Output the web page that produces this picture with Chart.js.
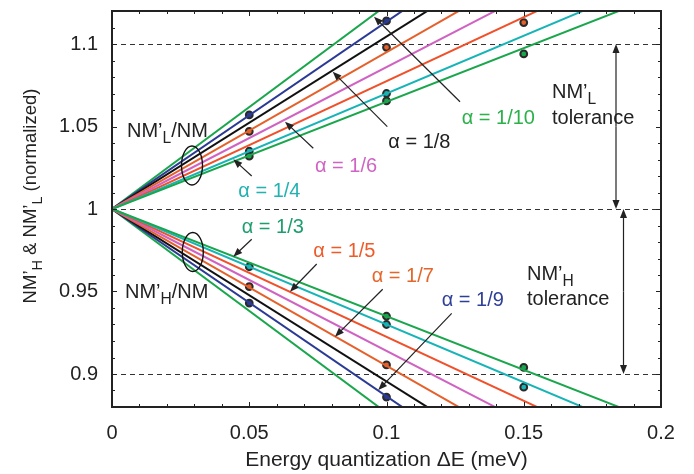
<!DOCTYPE html>
<html>
<head>
<meta charset="utf-8">
<script src="https://cdn.jsdelivr.net/npm/chart.js@4/dist/chart.umd.min.js"></script>
<style>
  html, body { margin: 0; padding: 0; background: #fff; }
  #wrap { width: 694px; height: 474px; }
</style>
</head>
<body>
<div id="wrap"><canvas id="c"></canvas></div>
<script>
// data
const alphaLabels = ['1/3', '1/4', '1/5', '1/6', '1/7', '1/8', '1/9', '1/10'];
const startX = 0, endX = 0.2, origin = 1;
// NM'L/NM and NM'H/NM reached at dE = 0.2 meV (lines start at 1)
const upperEnd = [1.130, 1.140, 1.155, 1.172, 1.190, 1.209, 1.227, 1.247];
const lowerEnd = [0.870, 0.860, 0.845, 0.828, 0.810, 0.791, 0.773, 0.753];
// simulated points (circles)
const simX = [0.05, 0.1, 0.15];
const simUpper = [[1.057, 1.047, 1.035, 1.032], [1.114, 1.098, 1.070, 1.0655], [1.113, 1.094]];
const simLower = [[0.965, 0.953, 0.943], [0.935, 0.930, 0.9055, 0.886], [0.904, 0.892]];
const refLines = [1.1, 1.0, 0.9];
const xTicks = [0, 0.05, 0.1, 0.15, 0.2];
const xTickLabels = ['0', '0.05', '0.1', '0.15', '0.2'];
const yTicks = [0.9, 0.95, 1, 1.05, 1.1];
const yTickLabels = ['0.9', '0.95', '1', '1.05', '1.1'];

const FONT = '"Liberation Sans", Arial, Helvetica, sans-serif';
const lineColors = ['#1aa64c', '#16b4b6', '#f0502a', '#d063c2', '#e5602a', '#111111', '#2a3a95', '#1aa64c'];
const labelColors = ['#1d9e6e', '#22b2b2', '#f05a28', '#d064c4', '#e5662a', '#222222', '#2e3f98', '#2bb04a'];
const simUpperFill = [['#2a3a95', '#e5602a', '#16b4b6', '#1aa64c'], ['#2a3a95', '#e5602a', '#16b4b6', '#1aa64c'], ['#e5602a', '#1aa64c']];
const simLowerFill = [['#16b4b6', '#e5602a', '#2a3a95'], ['#1aa64c', '#16b4b6', '#e5602a', '#2a3a95'], ['#1aa64c', '#16b4b6']];

// annotation layout (pixels)
const alphaNotes = [
  { x: 241.7, y: 233.3, tail: [251.7, 239.3], head: [233.3, 256.7] },
  { x: 238.3, y: 196.7, tail: [251.7, 176.0], head: [233.3, 159.3] },
  { x: 313.3, y: 256.7, tail: [316.7, 264.0], head: [290.0, 291.7] },
  { x: 315.0, y: 171.7, tail: [313.3, 148.3], head: [285.0, 121.7] },
  { x: 371.7, y: 281.7, tail: [382.7, 289.3], head: [335.0, 336.7] },
  { x: 388.3, y: 148.3, tail: [387.3, 126.7], head: [332.7, 71.7] },
  { x: 441.7, y: 306.0, tail: [451.7, 313.3], head: [378.3, 390.0] },
  { x: 461.7, y: 124.0, tail: [460.0, 101.7], head: [374.0, 16.7] }
];
const textNotes = [
  { text: 'NM’_{L}/NM', x: 127, y: 137 },
  { text: 'NM’_{H}/NM', x: 125, y: 298 },
  { text: 'NM’_{L}', x: 552, y: 98 },
  { text: 'tolerance', x: 552, y: 124 },
  { text: 'NM’_{H}', x: 527, y: 280 },
  { text: 'tolerance', x: 527, y: 305 }
];
const ellipses = [[192, 165.5, 10.5, 19.5], [192.8, 252, 10.5, 19.5]];

const datasets = [];
alphaLabels.forEach((a, i) => {
  [upperEnd, lowerEnd].forEach(ends => {
    datasets.push({
      type: 'line',
      data: [{ x: startX, y: origin }, { x: endX, y: ends[i] }],
      borderColor: lineColors[i],
      borderWidth: 2,
      pointRadius: 0
    });
  });
});
[simUpper, simLower].forEach((group, g) => {
  const fills = g === 0 ? simUpperFill : simLowerFill;
  group.forEach((ys, k) => {
    datasets.push({
      type: 'scatter',
      data: ys.map(v => ({ x: simX[k], y: v })),
      pointRadius: 3.4,
      pointBorderWidth: 2,
      pointBorderColor: '#2a2a2a',
      pointBackgroundColor: fills[k],
      showLine: false
    });
  });
});

function parseRich(str) {
  const parts = [];
  const re = /_\{([^}]*)\}/g;
  let last = 0, m;
  while ((m = re.exec(str))) {
    if (m.index > last) parts.push({ t: str.slice(last, m.index), sub: false });
    parts.push({ t: m[1], sub: true });
    last = re.lastIndex;
  }
  if (last < str.length) parts.push({ t: str.slice(last), sub: false });
  return parts;
}
function richWidth(ctx, parts, size) {
  let w = 0;
  parts.forEach(p => {
    ctx.font = (p.sub ? size * 0.78 : size) + 'px ' + FONT;
    w += ctx.measureText(p.t).width;
  });
  return w;
}
function drawRich(ctx, str, x, y, color, size) {
  const parts = parseRich(str);
  let cx = x;
  ctx.fillStyle = color;
  ctx.textBaseline = 'alphabetic';
  ctx.textAlign = 'left';
  parts.forEach(p => {
    const s = p.sub ? size * 0.78 : size;
    ctx.font = s + 'px ' + FONT;
    ctx.fillText(p.t, cx, y + (p.sub ? size * 0.3 : 0));
    cx += ctx.measureText(p.t).width;
  });
}
function arrow(ctx, x1, y1, x2, y2) {
  const ang = Math.atan2(y2 - y1, x2 - x1);
  const hl = 9, hw = 3.5;
  ctx.beginPath();
  ctx.moveTo(x1, y1);
  ctx.lineTo(x2 - Math.cos(ang) * hl * 0.8, y2 - Math.sin(ang) * hl * 0.8);
  ctx.stroke();
  ctx.beginPath();
  ctx.moveTo(x2, y2);
  ctx.lineTo(x2 - Math.cos(ang) * hl - Math.sin(ang) * hw, y2 - Math.sin(ang) * hl + Math.cos(ang) * hw);
  ctx.lineTo(x2 - Math.cos(ang) * hl + Math.sin(ang) * hw, y2 - Math.sin(ang) * hl - Math.cos(ang) * hw);
  ctx.closePath();
  ctx.fill();
}

const decor = {
  id: 'decor',
  beforeDatasetsDraw(chart) {
    const ctx = chart.ctx, { left, right } = chart.chartArea, ys = chart.scales.y;
    ctx.save();
    ctx.strokeStyle = '#333';
    ctx.lineWidth = 1;
    ctx.setLineDash([5, 4]);
    refLines.forEach(v => {
      const py = Math.round(ys.getPixelForValue(v)) + 0.5;
      ctx.beginPath();
      ctx.moveTo(left, py);
      ctx.lineTo(right, py);
      ctx.stroke();
    });
    ctx.restore();
  },
  afterDatasetsDraw(chart) {
    const ctx = chart.ctx, { left, right, top, bottom } = chart.chartArea;
    const xs = chart.scales.x, ys = chart.scales.y;
    ctx.save();
    // inward ticks on all four sides
    ctx.strokeStyle = '#222';
    ctx.lineWidth = 1;
    for (let k = 0; k <= 20; k++) {
      const px = Math.round(xs.getPixelForValue(k * 0.01)) + 0.5;
      const len = k % 5 === 0 ? 5 : 3;
      ctx.beginPath();
      ctx.moveTo(px, bottom); ctx.lineTo(px, bottom - len);
      ctx.moveTo(px, top); ctx.lineTo(px, top + len);
      ctx.stroke();
    }
    for (let k = 88; k <= 112; k++) {
      const py = Math.round(ys.getPixelForValue(k * 0.01)) + 0.5;
      const len = k % 5 === 0 ? 5 : 3;
      ctx.beginPath();
      ctx.moveTo(left, py); ctx.lineTo(left + len, py);
      ctx.moveTo(right, py); ctx.lineTo(right - len, py);
      ctx.stroke();
    }
    ctx.lineWidth = 2;
    ctx.strokeRect(left, top, right - left, bottom - top);

    // ellipses
    ctx.lineWidth = 1.4;
    ctx.strokeStyle = '#111';
    ellipses.forEach(([cx, cy, rx, ry]) => {
      ctx.beginPath();
      ctx.ellipse(cx, cy, rx, ry, 0, 0, Math.PI * 2);
      ctx.stroke();
    });

    // arrows
    ctx.strokeStyle = '#222';
    ctx.fillStyle = '#222';
    ctx.lineWidth = 1.2;
    alphaNotes.forEach(n => arrow(ctx, n.tail[0], n.tail[1], n.head[0], n.head[1]));
    const yTop = ys.getPixelForValue(refLines[0]);
    const yMid = ys.getPixelForValue(refLines[1]);
    const yBot = ys.getPixelForValue(refLines[2]);
    arrow(ctx, 616, (yTop + yMid) / 2, 616, yTop);
    arrow(ctx, 616, (yTop + yMid) / 2, 616, yMid);
    arrow(ctx, 623.5, (yMid + yBot) / 2, 623.5, yMid);
    arrow(ctx, 623.5, (yMid + yBot) / 2, 623.5, yBot);

    // labels
    alphaNotes.forEach((n, i) => drawRich(ctx, 'α = ' + alphaLabels[i], n.x, n.y, labelColors[i], 20));
    textNotes.forEach(n => drawRich(ctx, n.text, n.x, n.y, '#222', 20));

    // y-axis title with subscripts
    const yTitle = 'NM’_{H} & NM’_{L} (normalized)';
    const w = richWidth(ctx, parseRich(yTitle), 18.5);
    ctx.translate(36, 196);
    ctx.rotate(-Math.PI / 2);
    drawRich(ctx, yTitle, -w / 2, 0, '#222', 18.5);
    ctx.restore();
  }
};

new Chart(document.getElementById('c'), {
  data: { datasets },
  options: {
    responsive: true,
    maintainAspectRatio: false,
    animation: false,
    layout: { padding: { left: 0, top: 11, right: 33, bottom: 0 } },
    plugins: { legend: { display: false }, tooltip: { enabled: false } },
    scales: {
      x: {
        type: 'linear',
        min: xTicks[0],
        max: xTicks[xTicks.length - 1],
        afterFit: s => { s.height = 67; s.paddingLeft = 0; s.paddingRight = 0; },
        afterBuildTicks: s => { s.ticks = xTicks.map(v => ({ value: v })); },
        grid: { display: false, drawTicks: false },
        border: { display: false },
        ticks: {
          padding: 14,
          color: '#222',
          font: { size: 20, family: FONT },
          maxRotation: 0,
          callback: (v, i) => xTickLabels[i]
        },
        title: {
          display: true,
          text: 'Energy quantization ΔE (meV)',
          color: '#222',
          font: { size: 21, family: FONT },
          padding: { top: 0, bottom: 1 }
        }
      },
      y: {
        type: 'linear',
        min: 0.88,
        max: 1.12,
        afterFit: s => { s.width = 112; s.paddingTop = 0; s.paddingBottom = 0; },
        afterBuildTicks: s => { s.ticks = yTicks.map(v => ({ value: v })); },
        grid: { display: false, drawTicks: false },
        border: { display: false },
        ticks: {
          padding: 14,
          color: '#222',
          font: { size: 20, family: FONT },
          callback: (v, i) => yTickLabels[i]
        }
      }
    }
  },
  plugins: [decor]
});
</script>
</body>
</html>
